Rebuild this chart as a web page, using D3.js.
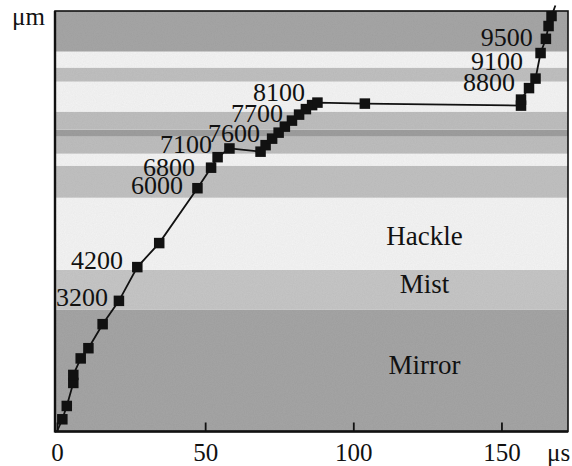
<!DOCTYPE html>
<html>
<head>
<meta charset="utf-8">
<script src="https://cdn.jsdelivr.net/npm/d3@7"></script>
<style>
  html, body { margin: 0; padding: 0; background: #fff; }
  svg { display: block; }
</style>
</head>
<body>
<svg id="chart" width="572" height="466"></svg>
<script>
'use strict';

// fracture zones, bottom to top (depth in um)
var bandLo   = [0,     121.5, 161.5, 233.5, 265.5, 277.5, 294.5, 301.5, 319.5, 349.5, 363.5, 379.5];
var bandHi   = [121.5, 161.5, 233.5, 265.5, 277.5, 294.5, 301.5, 319.5, 349.5, 363.5, 379.5, 420];
var bandGray = [165,   198,   244,   193,   244,   190,   158,   190,   244,   192,   244,   166];

var zoneNames = ["Mirror", "Mist", "Hackle"];
var zoneDepth = [57, 138.5, 186.5];

// crack tip: time (us) vs depth (um)
var times = [0, 1.8, 3.3, 5.5, 5.5, 8.0, 10.6, 15.4, 20.9, 27.1, 34.5, 47.4, 52.0, 54.2, 58.2,
  68.7, 70.4, 72.6, 74.8, 76.9, 79.3, 81.7, 84.0, 86.1, 87.9, 103.9,
  156.6, 156.6, 159.3, 161.5, 163.2, 165.0, 165.9, 166.9, 168.2];
var depths = [0, 12.2, 25.5, 48.5, 56.5, 73, 83.2, 107.2, 130.5, 164.2, 188.2, 243, 263.5, 274, 282.7,
  279.5, 286, 292.5, 298.5, 304.5, 310.5, 316.5, 322, 326, 328.5, 327.5,
  325.5, 331.5, 343, 352.5, 378, 392.2, 405, 415, 425.5];

// frame labels (end of text, baseline)
var labelText  = ["3200", "4200", "6000", "6800", "7100", "7600", "7700", "8100", "8800", "9100", "9500"];
var labelTime  = [17.2, 22.3, 42.5, 46.6, 52.3, 68.5, 76.3, 83.7, 154.6, 157.3, 160.6];
var labelDepth = [125.5, 162.5, 237, 255.5, 278.5, 289.5, 309.5, 330, 340, 361.5, 385];

var xTicks = [0, 50, 100, 150];

var FONT = "Liberation Serif";
var svg = d3.select("#chart");
var pLeft = 55, pRight = 568, pTop = 11, pBottom = 431.5;

var x = d3.scaleLinear().domain([0, 173]).range([57, 569.6]);
var y = d3.scaleLinear().domain([0, 420]).range([pBottom, pTop]);

svg.append("clipPath").attr("id", "plot")
  .append("rect")
  .attr("x", pLeft).attr("y", pTop)
  .attr("width", pRight - pLeft).attr("height", pBottom - pTop);

// grain
var filt = svg.append("filter").attr("id", "grain").attr("x", 0).attr("y", 0).attr("width", 1).attr("height", 1);
filt.append("feTurbulence").attr("type", "fractalNoise").attr("baseFrequency", "0.9").attr("numOctaves", 2).attr("seed", 4).attr("result", "n");
filt.append("feColorMatrix").attr("in", "n").attr("type", "matrix")
  .attr("values", "0 0 0 0 0  0 0 0 0 0  0 0 0 0 0  0 0 0 0.10 0").attr("result", "na");
filt.append("feComposite").attr("in", "na").attr("in2", "SourceGraphic").attr("operator", "atop");

var bands = svg.append("g").attr("clip-path", "url(#plot)");
bands.selectAll("rect")
  .data(bandLo)
  .enter()
  .append("rect")
  .attr("x", pLeft)
  .attr("width", pRight - pLeft)
  .attr("y", function(d, i) { return y(bandHi[i]); })
  .attr("height", function(d, i) { return y(d) - y(bandHi[i]); })
  .style("fill", function(d, i) { var g = bandGray[i]; return d3.rgb(g, g, g); })
  .attr("filter", "url(#grain)");

// zone names
svg.selectAll(".zone")
  .data(zoneNames)
  .enter()
  .append("text")
  .attr("class", "zone")
  .attr("x", x(124))
  .attr("y", function(d, i) { return y(zoneDepth[i]); })
  .attr("text-anchor", "middle")
  .style("font-family", FONT)
  .style("font-size", "27px")
  .style("fill", "#111")
  .text(function(d) { return d; });

// axis ticks, pointing inward
var xAxis = d3.axisBottom(x).tickValues(xTicks).tickSizeInner(-9).tickSizeOuter(0).tickPadding(12);
var gx = svg.append("g").attr("transform", "translate(0," + pBottom + ")").call(xAxis);
gx.attr("font-family", FONT);
gx.select(".domain").remove();
gx.selectAll(".tick line").attr("stroke", "#111").attr("stroke-width", 1.8);
gx.selectAll(".tick text")
  .style("font-family", FONT)
  .style("font-size", "25px")
  .style("fill", "#111");

// path
var pts = times.map(function(t, i) { return [t, depths[i]]; });
var line = d3.line().x(function(d) { return x(d[0]); }).y(function(d) { return y(d[1]); });
svg.append("path")
  .datum(pts)
  .attr("d", line)
  .attr("fill", "none")
  .attr("stroke", "#111")
  .attr("stroke-width", 1.8);

var sz = 10.5;
svg.append("g").attr("clip-path", "url(#plot)")
  .selectAll("rect")
  .data(pts.slice(1, pts.length - 1))
  .enter()
  .append("rect")
  .attr("x", function(d) { return x(d[0]) - sz / 2; })
  .attr("y", function(d) { return y(d[1]) - sz / 2; })
  .attr("width", sz)
  .attr("height", sz)
  .style("fill", "#111");

// frame numbers
svg.selectAll(".lab")
  .data(labelText)
  .enter()
  .append("text")
  .attr("class", "lab")
  .attr("x", function(d, i) { return x(labelTime[i]); })
  .attr("y", function(d, i) { return y(labelDepth[i]); })
  .attr("text-anchor", "end")
  .style("font-family", FONT)
  .style("font-size", "26px")
  .style("fill", "#111")
  .text(function(d) { return d; });

// frame
svg.append("rect")
  .attr("x", pLeft).attr("y", pTop)
  .attr("width", pRight - pLeft).attr("height", pBottom - pTop)
  .attr("fill", "none")
  .attr("stroke", "#111")
  .attr("stroke-width", 1.6);
svg.append("line")
  .attr("x1", pLeft).attr("x2", pLeft).attr("y1", pTop).attr("y2", pBottom + 1)
  .attr("stroke", "#111").attr("stroke-width", 2.4);
svg.append("line")
  .attr("x1", pLeft).attr("x2", pRight).attr("y1", pBottom).attr("y2", pBottom)
  .attr("stroke", "#111").attr("stroke-width", 2.4);

// units
svg.append("text").attr("x", 12).attr("y", 25)
  .style("font-family", FONT).style("font-size", "25px").style("fill", "#111").text("\u03bcm");
svg.append("text").attr("x", 547).attr("y", 461)
  .style("font-family", FONT).style("font-size", "25px").style("fill", "#111").text("\u03bcs");
</script>
</body>
</html>
